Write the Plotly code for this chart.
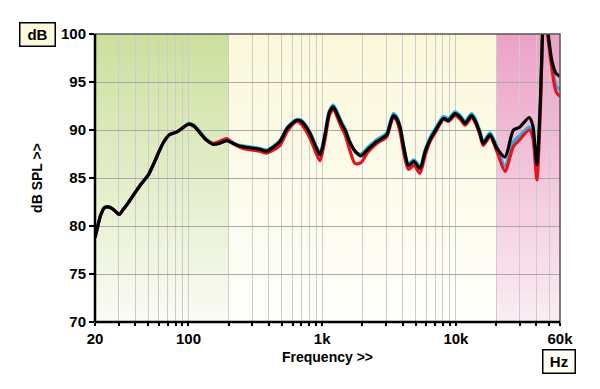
import plotly.graph_objects as go
import numpy as np

freq = [20, 21, 22, 23.5, 25, 27, 29, 30.5, 32, 35, 40, 45, 50, 55, 60, 65, 72, 82, 90,
        100, 110, 122, 135, 153, 170, 193, 215, 243, 270, 305, 340, 385, 430, 483, 550,
        644, 700, 800, 900, 964, 1050, 1130, 1211, 1300, 1400, 1484, 1600, 1762, 1950,
        2200, 2560, 3040, 3250, 3410, 3600, 3820, 4100, 4410, 4860, 5380, 5900, 6400,
        7200, 8050, 8800, 9840, 10800, 11700, 13100, 14000, 15100, 16000, 18000, 20200,
        23300, 26900, 30000, 35300, 37500, 40300, 42500, 45700, 48000, 52000, 56000, 60000]

black = [78.8, 80.0, 81.1, 81.9, 82.0, 81.8, 81.4, 81.2, 81.6, 82.3, 83.5, 84.5, 85.3, 86.5,
         87.7, 88.7, 89.5, 89.8, 90.2, 90.6, 90.4, 89.7, 89.0, 88.5, 88.6, 88.9, 88.6, 88.3,
         88.2, 88.1, 88.0, 87.8, 88.2, 88.8, 90.2, 91.0, 90.9, 89.8, 88.2, 87.4, 89.5, 91.8,
         92.4, 91.6, 90.6, 90.0, 88.8, 87.8, 87.3, 88.0, 88.8, 89.5, 90.8, 91.5, 91.2, 90.3,
         88.0, 86.3, 86.7, 86.0, 87.8, 89.0, 90.2, 91.2, 91.0, 91.7, 91.3, 90.7, 91.5, 90.9,
         89.7, 88.6, 89.5, 88.1, 87.2, 90.0, 90.3, 91.3, 90.5, 86.4, 92.0, 103.0, 101.0,
         97.3, 95.9, 95.6]

red = [78.8, 80.0, 81.1, 81.9, 82.0, 81.8, 81.4, 81.2, 81.6, 82.3, 83.5, 84.5, 85.3, 86.5,
       87.7, 88.7, 89.5, 89.8, 90.2, 90.6, 90.4, 89.7, 89.0, 88.6, 88.8, 89.1, 88.6, 88.2,
       88.0, 87.9, 87.8, 87.6, 87.9, 88.4, 89.9, 90.9, 90.6, 89.3, 87.6, 86.8, 89.0, 91.5,
       92.2, 91.3, 90.2, 89.5, 88.0, 86.5, 86.6, 87.7, 88.6, 89.3, 90.6, 91.4, 91.0, 89.8,
       87.4, 85.9, 86.3, 85.5, 87.4, 88.8, 90.0, 91.1, 90.9, 91.5, 91.1, 90.5, 91.3, 90.7,
       89.5, 88.4, 89.3, 87.8, 85.7, 88.3, 89.0, 90.0, 89.3, 84.8, 91.0, 103.0, 100.5,
       96.5, 94.0, 93.5]

cyan = [78.8, 80.0, 81.1, 81.9, 82.0, 81.8, 81.4, 81.2, 81.6, 82.3, 83.5, 84.5, 85.3, 86.5,
        87.7, 88.7, 89.5, 89.8, 90.2, 90.7, 90.5, 89.8, 89.1, 88.6, 88.7, 89.0, 88.7, 88.4,
        88.3, 88.2, 88.1, 87.9, 88.3, 88.9, 90.3, 91.1, 91.0, 89.9, 88.3, 87.6, 89.7, 92.0,
        92.6, 91.8, 90.8, 90.1, 88.9, 87.7, 87.5, 88.2, 89.0, 89.7, 91.0, 91.7, 91.4, 90.4,
        88.1, 86.5, 86.9, 86.2, 88.0, 89.2, 90.4, 91.4, 91.2, 91.9, 91.5, 90.9, 91.7, 91.1,
        89.9, 88.8, 89.7, 88.3, 86.2, 88.8, 89.4, 90.3, 89.6, 85.5, 91.5, 103.0, 100.8,
        96.8, 94.6, 94.2]

x_tick_vals = [20, 30, 40, 50, 60, 70, 80, 90, 100, 200, 300, 400, 500, 600, 700, 800, 900,
               1000, 2000, 3000, 4000, 5000, 6000, 7000, 8000, 9000, 10000, 20000, 30000,
               40000, 50000, 60000]
x_label_map = {20: "20", 100: "100", 1000: "1k", 10000: "10k", 60000: "60k"}
x_tick_text = [x_label_map.get(v, "") for v in x_tick_vals]
y_tick_vals = [70, 75, 80, 85, 90, 95, 100]

regions = [
    (20, 200, (204, 224, 158), (250, 251, 244)),
    (200, 20000, (251, 248, 218), (254, 254, 250)),
    (20000, 60000, (236, 162, 200), (250, 236, 242)),
]

shapes = []
nb = 48
for f0, f1, ctop, cbot in regions:
    for i in range(nb):
        t = i / (nb - 1)
        c = tuple(int(round(ctop[k] + (cbot[k] - ctop[k]) * t)) for k in range(3))
        y1 = 100 - 30 * i / nb
        y0 = 100 - 30 * (i + 1) / nb
        shapes.append(dict(type="rect", xref="x", yref="y", x0=f0, x1=f1, y0=y0, y1=y1,
                           fillcolor="rgb(%d,%d,%d)" % c, line=dict(width=0), layer="below"))

for fv in [100, 1000, 10000]:
    shapes.append(dict(type="line", xref="x", yref="paper", x0=fv, x1=fv, y0=0, y1=1,
                       line=dict(color="#9a9a9a", width=1), layer="between"))
# frame
shapes.append(dict(type="rect", xref="paper", yref="paper", x0=0, x1=1, y0=0, y1=1,
                   line=dict(color="#555555", width=1.5), layer="above"))
shapes.append(dict(type="line", xref="paper", yref="paper", x0=0, x1=0, y0=0, y1=1,
                   line=dict(color="black", width=2.5), layer="above"))
shapes.append(dict(type="line", xref="paper", yref="paper", x0=0, x1=1, y0=0, y1=0,
                   line=dict(color="black", width=2.5), layer="above"))

fig = go.Figure()
for ys, col in [(cyan, "#2aaee0"), (red, "#e8141c"), (black, "#000000")]:
    fig.add_trace(go.Scatter(x=freq, y=ys, mode="lines",
                             line=dict(color=col, width=3.2, shape="spline", smoothing=0.7),
                             hoverinfo="skip", showlegend=False))

FAM = "Liberation Sans, Arial, sans-serif"
tfont = dict(family=FAM, size=15, color="black", weight="bold")

# page body has an 8px offset; the figure is sized/margined to place the plot area as in the reference
fig.update_layout(
    width=592, height=381,
    margin=dict(l=87, r=40, t=26, b=67),
    paper_bgcolor="white", plot_bgcolor="white",
    shapes=shapes,
    showlegend=False,
    xaxis=dict(type="log", range=[np.log10(20), np.log10(60000)],
               tickvals=x_tick_vals, ticktext=x_tick_text,
               ticks="outside", ticklen=3, tickwidth=1.5, tickcolor="black",
               showgrid=True, gridcolor="#cccccc", gridwidth=1,
               showline=False, zeroline=False, tickfont=tfont,
               title=dict(text="Frequency >>", font=dict(family=FAM, size=14, color="black", weight="bold"),
                          standoff=6)),
    yaxis=dict(range=[70, 100], tickvals=y_tick_vals,
               ticks="outside", ticklen=5, tickwidth=1.5, tickcolor="black",
               showgrid=True, gridcolor="#a8a8a8", gridwidth=1,
               showline=False, zeroline=False, tickfont=tfont,
               title=dict(text="dB SPL >>", font=dict(family=FAM, size=14, color="black", weight="bold"),
                          standoff=15)),
    annotations=[
        dict(text="<b>dB</b>", xref="paper", yref="paper", x=(37 - 95) / 465, y=(322 - 34.5) / 288,
             showarrow=False, font=dict(family=FAM, size=15, color="black"),
             bgcolor="#fdf9dc", bordercolor="black", borderwidth=1.5, borderpad=2,
             xanchor="center", yanchor="middle", width=30, height=18),
        dict(text="<b>Hz</b>", xref="paper", yref="paper", x=(558.5 - 95) / 465, y=(322 - 361.5) / 288,
             showarrow=False, font=dict(family=FAM, size=15, color="black"),
             bgcolor="#fffef6", bordercolor="black", borderwidth=1.5, borderpad=2,
             xanchor="center", yanchor="middle", width=27, height=18),
    ],
)

fig.write_html("out.html")
